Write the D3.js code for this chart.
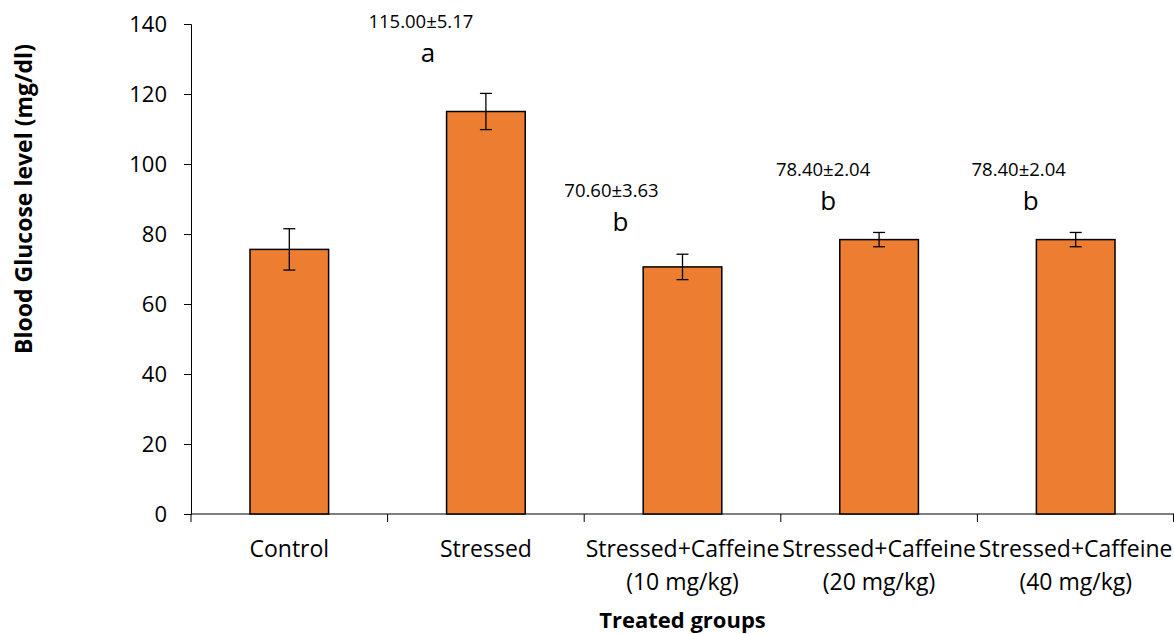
<!DOCTYPE html>
<html>
<head>
<meta charset="utf-8">
<script src="https://cdn.jsdelivr.net/npm/d3@7"></script>
<style>
  body{margin:0;background:#fff;}
  svg text{font-family:"Open Sans",Lato,sans-serif;fill:#000;}
</style>
</head>
<body>
<svg id="chart" width="1174" height="634"></svg>
<script>
'use strict';

//Chart data
var groups = ['Control','Stressed','Stressed+Caffeine (10 mg/kg)','Stressed+Caffeine (20 mg/kg)','Stressed+Caffeine (40 mg/kg)'];
var means = [75.6, 115.0, 70.6, 78.4, 78.4];
var errors = [5.9, 5.17, 3.63, 2.04, 2.04];
var letters = ['', 'a', 'b', 'b', 'b'];
var valueLabels = ['', '115.00±5.17', '70.60±3.63', '78.40±2.04', '78.40±2.04'];
var yTicks = [0, 20, 40, 60, 80, 100, 120, 140];

(function(){

	//Hand placed annotation nudges (pixels from bar centre / error bar top)
	var letterNudge = [[0,0],[-58,-31],[-62,-23],[-51,-22],[-45,-22]];
	var labelNudge = [[0,0],[-65,-65],[-71,-57],[-56,-56],[-57,-56]];

	var svg = d3.select('#chart');
	var plotLeft = 191, plotRight = 1174, plotTop = 24, plotBottom = 514;

	var y = d3.scaleLinear().domain([0,140]).range([plotBottom, plotTop]);
	var x = d3.scaleBand().domain(groups).range([plotLeft, plotRight])
		.paddingInner(0.6).paddingOuter(0.3);
	var step = x.step();

	//Y axis
	var yAxis = svg.append('g').attr('transform','translate(' + plotLeft + ',0)')
		.call(d3.axisLeft(y).tickValues(yTicks).tickSize(7).tickPadding(17));
	yAxis.select('.domain').attr('stroke','#000');
	yAxis.selectAll('.tick line').attr('stroke','#000');
	yAxis.selectAll('.tick text').attr('font-size','22px').attr('dy','0.36em');

	//X axis line and separators
	svg.append('line')
		.attr('x1',plotLeft).attr('x2',plotRight)
		.attr('y1',y(0)).attr('y2',y(0))
		.attr('stroke','#000').attr('stroke-width',1);

	var sepX = groups.map(function(g){ return x(g) + x.bandwidth()/2 - step/2; });
	sepX.push(plotRight - 0.5);
	svg.selectAll('.sep').data(sepX).enter().append('line')
		.attr('class','sep')
		.attr('x1',function(d){ return d; }).attr('x2',function(d){ return d; })
		.attr('y1',y(0)).attr('y2',y(0) + 8)
		.attr('stroke','#000').attr('stroke-width',1);

	//Bars
	svg.selectAll('.bar').data(groups).enter().append('rect')
		.attr('class','bar')
		.attr('x',function(d){ return x(d); })
		.attr('width',x.bandwidth())
		.attr('y',function(d,i){ return y(means[i]); })
		.attr('height',function(d,i){ return y(0) - y(means[i]); })
		.attr('fill','#ED7D31')
		.attr('stroke','#000')
		.attr('stroke-width',1.5);

	//Error bars
	var cx = function(d){ return x(d) + x.bandwidth()/2; };
	var eb = svg.selectAll('.err').data(groups).enter().append('g').attr('class','err')
		.attr('stroke','#000').attr('stroke-width',1.3);
	eb.append('line')
		.attr('x1',cx).attr('x2',cx)
		.attr('y1',function(d,i){ return y(means[i] + errors[i]); })
		.attr('y2',function(d,i){ return y(means[i] - errors[i]); });
	[1,-1].forEach(function(s){
		eb.append('line')
			.attr('x1',function(d){ return cx(d) - 6; })
			.attr('x2',function(d){ return cx(d) + 6; })
			.attr('y1',function(d,i){ return y(means[i] + s*errors[i]); })
			.attr('y2',function(d,i){ return y(means[i] + s*errors[i]); });
	});

	//Annotations
	groups.forEach(function(g,i){
		if(!letters[i]) return;
		var errTop = y(means[i] + errors[i]);
		svg.append('text')
			.attr('x',cx(g) + labelNudge[i][0])
			.attr('y',errTop + labelNudge[i][1])
			.attr('text-anchor','middle')
			.attr('font-size','18.5px')
			.text(valueLabels[i]);
		svg.append('text')
			.attr('x',cx(g) + letterNudge[i][0])
			.attr('y',errTop + letterNudge[i][1])
			.attr('text-anchor','middle')
			.attr('font-size','26px')
			.text(letters[i]);
	});

	//Category labels (two lines where needed)
	groups.forEach(function(g){
		var cut = g.indexOf(' (');
		var parts = cut > -1 ? [g.slice(0, cut), g.slice(cut + 1)] : [g];
		var t = svg.append('text')
			.attr('x',cx(g))
			.attr('y',557)
			.attr('text-anchor','middle')
			.attr('font-size','23px');
		parts.forEach(function(p,j){
			t.append('tspan').attr('x',cx(g)).attr('dy', j === 0 ? 0 : 33).text(p);
		});
	});

	//Axis titles
	svg.append('text')
		.attr('x',682.5)
		.attr('y',628)
		.attr('text-anchor','middle')
		.attr('font-size','22px')
		.attr('font-weight','bold')
		.text('Treated groups');

	svg.append('text')
		.attr('transform','translate(32,199) rotate(-90)')
		.attr('text-anchor','middle')
		.attr('font-size','23px')
		.attr('font-weight','bold')
		.text('Blood Glucose level (mg/dl)');

})();
</script>
</body>
</html>
